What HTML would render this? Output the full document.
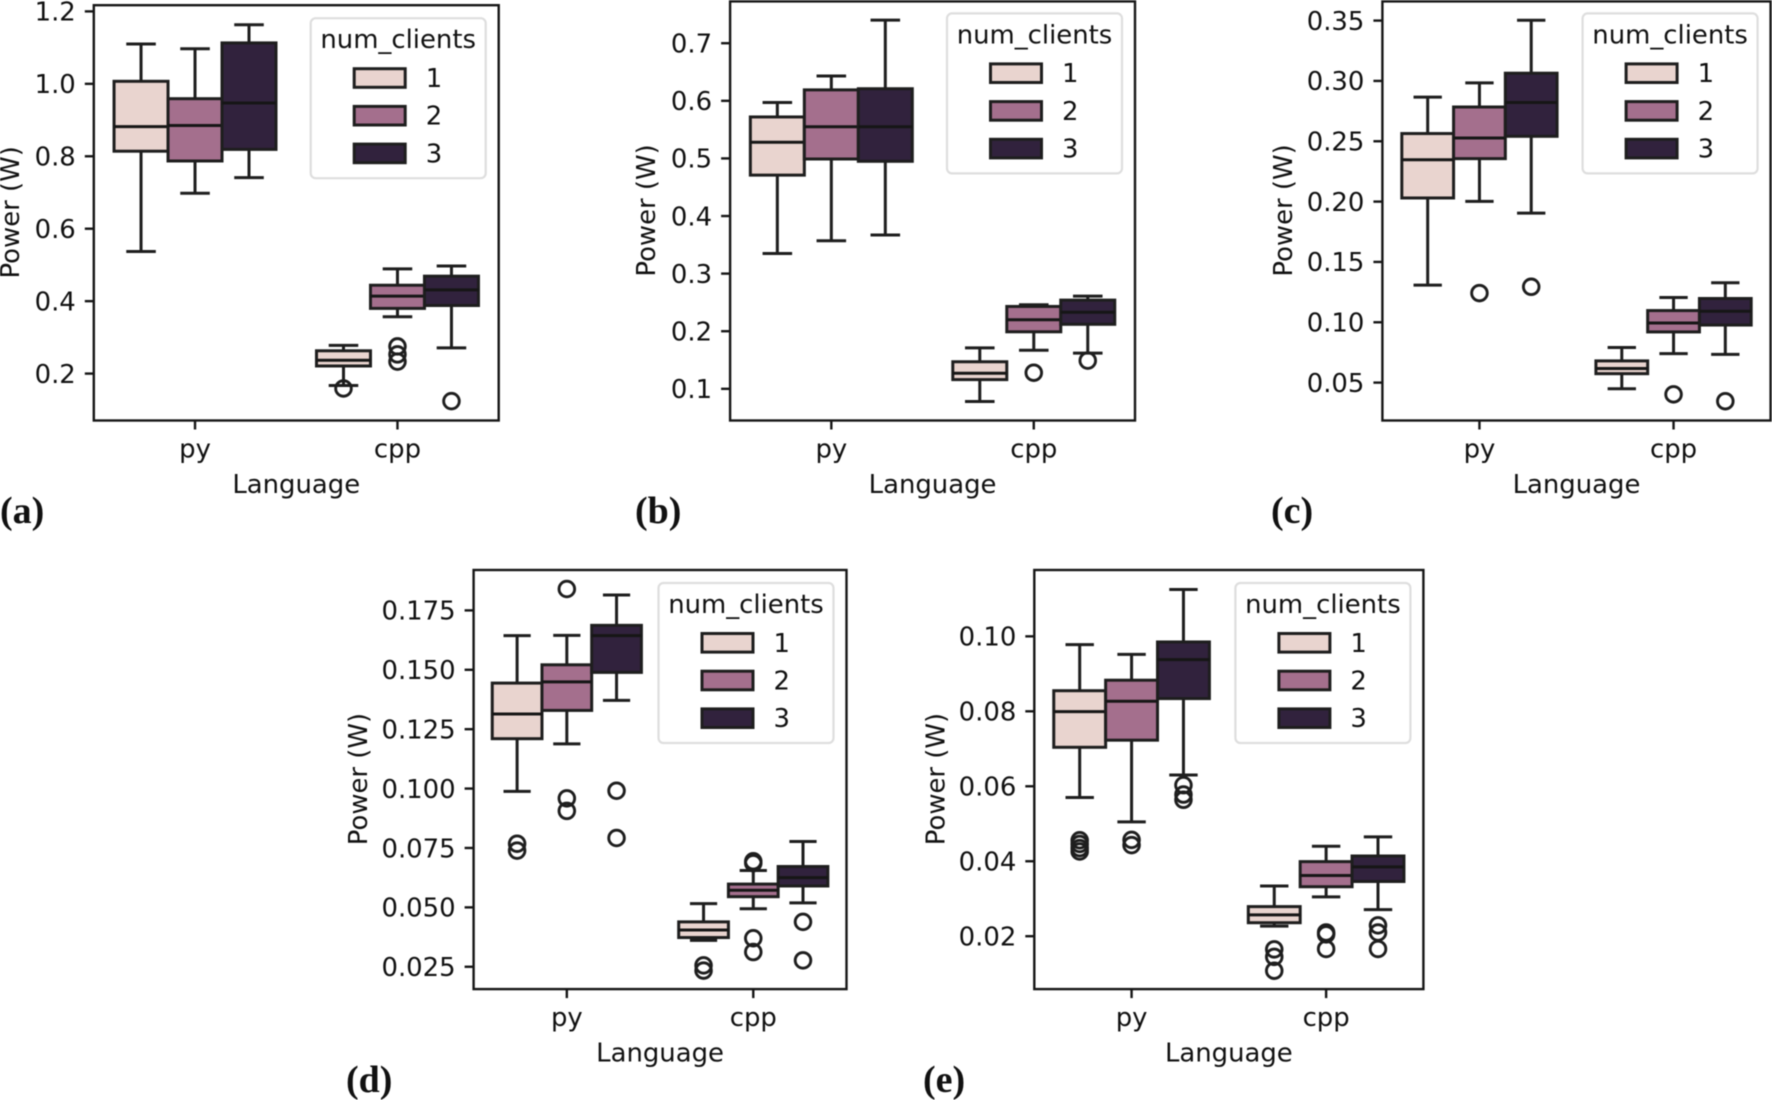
<!DOCTYPE html>
<html lang="en">
<head>
<meta charset="utf-8">
<title>Power by language and number of clients</title>
<style>
html,body{margin:0;padding:0;background:#fff;width:1772px;height:1100px;overflow:hidden}
svg{display:block;filter:blur(0.45px)}
text{font-family:"DejaVu Sans","Liberation Sans",sans-serif;fill:#111}
.panel-letter{font-family:"Liberation Serif",serif;font-weight:bold;font-size:38px}
</style>
</head>
<body>
<svg id="figure" xmlns="http://www.w3.org/2000/svg" width="1772" height="1100" viewBox="0 0 1772 1100"></svg>
<script>
// Shared categories
const categories = ['py', 'cpp'];
const hues = ['1', '2', '3'];
const hueColors = ['#e9d4cf', '#a46f8d', '#31223d'];

// Panel (a) – order: py-1, py-2, py-3, cpp-1, cpp-2, cpp-3
const aTicks = [0.2, 0.4, 0.6, 0.8, 1.0, 1.2];
const aTickLabels = ['0.2', '0.4', '0.6', '0.8', '1.0', '1.2'];
const aHigh = [1.110, 1.097, 1.163, 0.278, 0.489, 0.497];
const aQ3 = [1.007, 0.959, 1.113, 0.263, 0.444, 0.469];
const aMedian = [0.882, 0.885, 0.947, 0.237, 0.414, 0.431];
const aQ1 = [0.814, 0.787, 0.819, 0.221, 0.380, 0.388];
const aLow = [0.537, 0.698, 0.741, 0.167, 0.357, 0.271];
const aOutliers = [[], [], [], [0.159], [0.275, 0.253, 0.233], [0.124]];

// Panel (b)
const bTicks = [0.1, 0.2, 0.3, 0.4, 0.5, 0.6, 0.7];
const bTickLabels = ['0.1', '0.2', '0.3', '0.4', '0.5', '0.6', '0.7'];
const bHigh = [0.597, 0.643, 0.740, 0.171, 0.246, 0.261];
const bQ3 = [0.572, 0.619, 0.621, 0.147, 0.243, 0.254];
const bMedian = [0.528, 0.555, 0.555, 0.127, 0.220, 0.233];
const bQ1 = [0.471, 0.499, 0.495, 0.116, 0.199, 0.212];
const bLow = [0.335, 0.357, 0.367, 0.078, 0.167, 0.162];
const bOutliers = [[], [], [], [], [0.128], [0.149]];

// Panel (c)
const cTicks = [0.05, 0.10, 0.15, 0.20, 0.25, 0.30, 0.35];
const cTickLabels = ['0.05', '0.10', '0.15', '0.20', '0.25', '0.30', '0.35'];
const cHigh = [0.2866, 0.2984, 0.3503, 0.0791, 0.1205, 0.1328];
const cQ3 = [0.2564, 0.2784, 0.3064, 0.0680, 0.1097, 0.1197];
const cMedian = [0.2347, 0.2527, 0.2821, 0.0617, 0.0994, 0.1091];
const cQ1 = [0.2030, 0.2356, 0.2541, 0.0574, 0.0920, 0.0977];
const cLow = [0.1308, 0.2002, 0.1904, 0.0449, 0.0740, 0.0734];
const cOutliers = [[], [0.1242], [0.1294], [], [0.0403], [0.0346]];

// Panel (d)
const dTicks = [0.025, 0.050, 0.075, 0.100, 0.125, 0.150, 0.175];
const dTickLabels = ['0.025', '0.050', '0.075', '0.100', '0.125', '0.150', '0.175'];
const dHigh = [0.1644, 0.1645, 0.1815, 0.0516, 0.0655, 0.0777];
const dQ3 = [0.1444, 0.1521, 0.1687, 0.0439, 0.0598, 0.0672];
const dMedian = [0.1314, 0.1449, 0.1644, 0.0405, 0.0572, 0.0625];
const dQ1 = [0.1210, 0.1329, 0.1489, 0.0373, 0.0545, 0.0590];
const dLow = [0.0988, 0.1188, 0.1371, 0.0361, 0.0494, 0.0519];
const dOutliers = [[0.0768, 0.0739], [0.184, 0.0959, 0.0906], [0.0991, 0.0792], [0.0256, 0.0234], [0.0694, 0.0686, 0.037, 0.0312], [0.0439, 0.0277]];

// Panel (e)
const eTicks = [0.02, 0.04, 0.06, 0.08, 0.10];
const eTickLabels = ['0.02', '0.04', '0.06', '0.08', '0.10'];
const eHigh = [0.0978, 0.0952, 0.1125, 0.0334, 0.0440, 0.0465];
const eQ3 = [0.0855, 0.0883, 0.0985, 0.0279, 0.0399, 0.0414];
const eMedian = [0.0799, 0.0827, 0.0938, 0.0257, 0.0362, 0.0385];
const eQ1 = [0.0704, 0.0723, 0.0834, 0.0236, 0.0332, 0.0346];
const eLow = [0.0570, 0.0505, 0.0630, 0.0227, 0.0305, 0.0271];
const eOutliers = [[0.0456, 0.0446, 0.0435, 0.0426], [0.0457, 0.0443], [0.0603, 0.0578, 0.0564], [0.0165, 0.0145, 0.0108], [0.021, 0.0205, 0.0166], [0.0229, 0.021, 0.0166]];

const SVG_NS = 'http://www.w3.org/2000/svg';
const INK = '#1e1e1e';
const LINE = 3.0;
const SPINE = 2.4;
const FONT = 25.9;

function mk(parent, tag, attrs, txt) {
  const node = document.createElementNS(SVG_NS, tag);
  for (const k in attrs) node.setAttribute(k, attrs[k]);
  if (txt !== undefined) node.textContent = txt;
  parent.appendChild(node);
  return node;
}

function drawPanel(root, p) {
  const g = mk(root, 'g', {});
  
  

  const yScale = v => p.bottom + (v - p.yMin) / (p.yMax - p.yMin) * (p.top - p.bottom);
  const unit = (p.right - p.left) / 2;
  const xScale = u => p.left + (u + 0.5) * unit;
  const hueWidth = 0.8 / 3;

  categories.forEach((cat, ci) => {
    hues.forEach((hue, hi) => {
      const i = ci * 3 + hi;
      const cx = xScale(ci + (hi - 1) * hueWidth);
      const half = hueWidth * unit / 2;
      const capHalf = 0.073 * unit;

      const bg = mk(g, 'g', {});
      
      

      const whiskerUp = mk(bg, 'line', {x1: cx, x2: cx, y1: yScale(p.q3[i]), y2: yScale(p.high[i]), stroke: INK, 'stroke-width': LINE});
      
      

      const whiskerDown = mk(bg, 'line', {x1: cx, x2: cx, y1: yScale(p.q1[i]), y2: yScale(p.low[i]), stroke: INK, 'stroke-width': LINE});
      
      

      const capUp = mk(bg, 'line', {x1: cx - capHalf, x2: cx + capHalf, y1: yScale(p.high[i]), y2: yScale(p.high[i]), stroke: INK, 'stroke-width': LINE});
      
      

      const capDown = mk(bg, 'line', {x1: cx - capHalf, x2: cx + capHalf, y1: yScale(p.low[i]), y2: yScale(p.low[i]), stroke: INK, 'stroke-width': LINE});
      
      

      const rect = mk(bg, 'rect', {x: cx - half, y: yScale(p.q3[i]), width: half * 2, height: yScale(p.q1[i]) - yScale(p.q3[i]), fill: hueColors[hi], stroke: INK, 'stroke-width': LINE});
      
      

      const med = mk(bg, 'line', {x1: cx - half, x2: cx + half, y1: yScale(p.median[i]), y2: yScale(p.median[i]), stroke: '#161616', 'stroke-width': LINE});
      
      

      p.outliers[i].forEach(v => {
        const c = mk(bg, 'circle', {cx: cx, cy: yScale(v), r: 7.8, fill: 'none', stroke: INK, 'stroke-width': 2.9});
        
        
      });
    });
  });

  const frame = mk(g, 'rect', {x: p.left, y: p.top, width: p.right - p.left, height: p.bottom - p.top, fill: 'none', stroke: '#161616', 'stroke-width': SPINE});
  
  

  p.ticks.forEach((v, i) => {
    const y = yScale(v);
    const tick = mk(g, 'line', {x1: p.left - 9, x2: p.left, y1: y, y2: y, stroke: '#161616', 'stroke-width': SPINE});
    
    
    const label = mk(g, 'text', {x: p.left - 18, y: y + 9.3, 'text-anchor': 'end', 'font-size': FONT}, p.tickLabels[i]);
    
    
  });

  categories.forEach((cat, ci) => {
    const x = xScale(ci);
    const tick = mk(g, 'line', {x1: x, x2: x, y1: p.bottom, y2: p.bottom + 9, stroke: '#161616', 'stroke-width': SPINE});
    
    
    const label = mk(g, 'text', {x: x, y: p.bottom + 37, 'text-anchor': 'middle', 'font-size': FONT}, cat);
    
    
  });

  const xTitle = mk(g, 'text', {x: (p.left + p.right) / 2, y: p.bottom + 72.5, 'text-anchor': 'middle', 'font-size': FONT}, 'Language');
  
  

  const midY = (p.top + p.bottom) / 2;
  const yTitle = mk(g, 'text', {x: 0, y: 0, 'text-anchor': 'middle', 'font-size': FONT, transform: 'translate(' + (p.yTitleX - 1) + ' ' + (midY - 0.5) + ') rotate(-90)'}, 'Power (W)');
  
  

  // Legend
  const lx = p.right - 13 - 175;
  const ly = p.top + p.legendInset;
  const legend = mk(g, 'g', {});
  
  

  const legendBox = mk(legend, 'rect', {x: lx, y: ly, width: 175, height: 160, rx: 5, ry: 5, fill: '#fff', stroke: '#dedede', 'stroke-width': 2.2});
  
  

  const legendTitle = mk(legend, 'text', {x: lx + 87.5, y: ly + 30, 'text-anchor': 'middle', 'font-size': FONT}, 'num_clients');
  
  

  hues.forEach((hue, hi) => {
    const sy = ly + 50.5 + hi * 37.7;
    const swatch = mk(legend, 'rect', {x: lx + 43.5, y: sy, width: 51, height: 18.6, fill: hueColors[hi], stroke: INK, 'stroke-width': LINE});
    
    
    const entry = mk(legend, 'text', {x: lx + 115, y: sy + 18.3, 'font-size': FONT}, hue);
    
    
  });

  const letter = mk(g, 'text', {x: p.letterX, y: p.letterY, class: 'panel-letter'}, '(' + p.id + ')');
  
  
}

const figure = document.getElementById('figure');

drawPanel(figure, {id: 'a', left: 93.8, right: 498.7, top: 5.2, bottom: 420.5, yMin: 0.0705, yMax: 1.2171, yTitleX: 20, letterX: 0, letterY: 523, legendInset: 13,
  ticks: aTicks, tickLabels: aTickLabels, high: aHigh, q3: aQ3, median: aMedian, q1: aQ1, low: aLow, outliers: aOutliers});
drawPanel(figure, {id: 'b', left: 730.1, right: 1135, top: 1.4, bottom: 420.5, yMin: 0.045, yMax: 0.7726, yTitleX: 656, letterX: 635, letterY: 523, legendInset: 12,
  ticks: bTicks, tickLabels: bTickLabels, high: bHigh, q3: bQ3, median: bMedian, q1: bQ1, low: bLow, outliers: bOutliers});
drawPanel(figure, {id: 'c', left: 1382.4, right: 1770.6, top: 1.4, bottom: 420.5, yMin: 0.0186, yMax: 0.3659, yTitleX: 1293, letterX: 1271, letterY: 523, legendInset: 12,
  ticks: cTicks, tickLabels: cTickLabels, high: cHigh, q3: cQ3, median: cMedian, q1: cQ1, low: cLow, outliers: cOutliers});
drawPanel(figure, {id: 'd', left: 473.6, right: 846.5, top: 570, bottom: 989.1, yMin: 0.0156, yMax: 0.192, yTitleX: 368, letterX: 346, letterY: 1092, legendInset: 13,
  ticks: dTicks, tickLabels: dTickLabels, high: dHigh, q3: dQ3, median: dMedian, q1: dQ1, low: dLow, outliers: dOutliers});
drawPanel(figure, {id: 'e', left: 1034.3, right: 1423.4, top: 570, bottom: 989.1, yMin: 0.00589, yMax: 0.1177, yTitleX: 945.5, letterX: 923, letterY: 1092, legendInset: 13,
  ticks: eTicks, tickLabels: eTickLabels, high: eHigh, q3: eQ3, median: eMedian, q1: eQ1, low: eLow, outliers: eOutliers});
</script>
</body>
</html>
